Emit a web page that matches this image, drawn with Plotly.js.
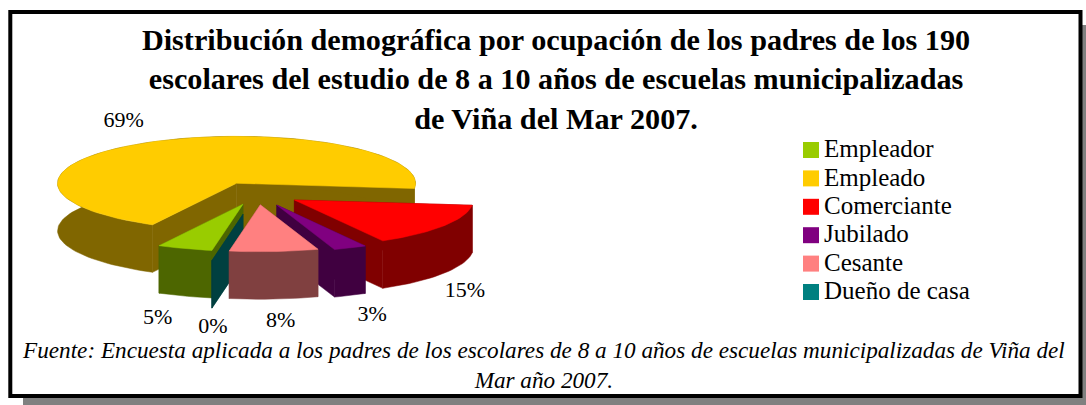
<!DOCTYPE html>
<html><head><meta charset="utf-8">
<script src="https://cdn.plot.ly/plotly-3.0.1.min.js"></script>
<style>html,body{margin:0;padding:0;background:#fff}#c{width:1086px;height:405px}</style>
</head><body><div id="c"></div>
<script>
// --- data ---
const categories = ["Empleador","Empleado","Comerciante","Jubilado","Cesante","Dueño de casa"];
const percents = [5,69,15,3,8,0];
const titleText = "Distribución demográfica por ocupación de los padres de los 190<br>escolares del estudio de 8 a 10 años de escuelas municipalizadas<br>de Viña del Mar 2007.";
const sourceText = "Fuente: Encuesta aplicada a los padres de los escolares de 8 a 10 años de escuelas municipalizadas de Viña del<br>Mar año 2007.";

// --- styling ---
const topColors = ["#99CC00","#FFCC00","#FF0000","#800080","#FF8080","#008080"];
const wallColors = ["#4D6600","#806600","#800000","#400040","#804040","#004040"];
const explode = [0.24,0.245,0.25,0.27,0.24,0.45];
const labelNudgeX = [-27,-29.5,21,22,6.7,1];
const labelNudgeY = [70,-20,66,68,70,67];
const drawOrder = [1,2,3,0,5,4];
const FONT = "Liberation Serif";
const pie = {cx:257, cy:193.5, rx:179, ry:47, depth:47.5, startDeg:260};
const legendBox = {x:811, textX:824, y:150, textDy:1, gap:28.4};

// --- geometry from values ---
const total = percents.reduce((a,b)=>a+b,0);
const rad = d=>d*Math.PI/180;
let cursor = pie.startDeg;
const slices = percents.map((v,i)=>{
  const t1 = cursor, t2 = cursor - v/total*360; cursor = t2;
  const mid = (t1+t2)/2;
  const ax = pie.cx + explode[i]*pie.rx*Math.cos(rad(mid));
  const ay = pie.cy - explode[i]*pie.ry*Math.sin(rad(mid));
  return {i,t1,t2,mid,ax,ay};
});
function arc(s,dy){
  const n = Math.max(1,Math.ceil(Math.abs(s.t1-s.t2)/2));
  const xs=[],ys=[];
  for(let k=0;k<=n;k++){
    const t=rad(s.t1+(s.t2-s.t1)*k/n);
    xs.push(s.ax+pie.rx*Math.cos(t));
    ys.push(s.ay-pie.ry*Math.sin(t)+dy);
  }
  return {xs,ys};
}
function poly(xs,ys,color){
  return {type:"scatter",mode:"lines",x:[...xs,xs[0]],y:[...ys,ys[0]],fill:"toself",fillcolor:color,
    line:{color:color,width:0.5},showlegend:false,hoverinfo:"skip"};
}
const traces=[];
drawOrder.forEach(idx=>{
  const s=slices[idx], a=arc(s,0), b=arc(s,pie.depth), d=pie.depth, w=wallColors[idx];
  const n=a.xs.length-1;
  traces.push(poly([s.ax,a.xs[0],a.xs[0],s.ax],[s.ay,a.ys[0],a.ys[0]+d,s.ay+d],w));
  traces.push(poly([s.ax,a.xs[n],a.xs[n],s.ax],[s.ay,a.ys[n],a.ys[n]+d,s.ay+d],w));
  traces.push(poly([...a.xs,...b.xs.slice().reverse()],[...a.ys,...b.ys.slice().reverse()],w));
  if(percents[idx]>0) traces.push(poly([s.ax,...a.xs],[s.ay,...a.ys],topColors[idx]));
});
// percent labels
traces.push({type:"scatter",mode:"text",
  x:slices.map((s,i)=>s.ax+pie.rx*Math.cos(rad(s.mid))+labelNudgeX[i]),
  y:slices.map((s,i)=>s.ay-pie.ry*Math.sin(rad(s.mid))+labelNudgeY[i]),
  text:percents.map(v=>v+"%"),textfont:{family:FONT,size:22,color:"#000"},
  showlegend:false,hoverinfo:"skip"});
// key
const keyY = categories.map((c,i)=>legendBox.y+i*legendBox.gap);
traces.push({type:"scatter",mode:"markers",x:categories.map(()=>legendBox.x),y:keyY,
  marker:{symbol:"square",size:16,color:topColors,line:{width:0}},showlegend:false,hoverinfo:"skip"});
traces.push({type:"scatter",mode:"text",x:categories.map(()=>legendBox.textX),y:keyY.map(v=>v+legendBox.textDy),
  text:categories,textposition:"middle right",textfont:{family:FONT,size:25,color:"#000"},
  showlegend:false,hoverinfo:"skip"});

const layout={
  width:1086,height:405,margin:{l:0,r:0,t:0,b:0},
  paper_bgcolor:"#fff",plot_bgcolor:"rgba(0,0,0,0)",showlegend:false,
  xaxis:{range:[0,1086],visible:false,fixedrange:true},
  yaxis:{range:[405,0],visible:false,fixedrange:true},
  title:{text:titleText,font:{family:FONT,size:30.2,color:"#000",weight:"bold"},x:0.512,xanchor:"center",y:0.876,yanchor:"top"},
  shapes:[
    {type:"rect",layer:"below",xref:"x",yref:"y",x0:23,y0:25,x1:1087,y1:406,fillcolor:"#808080",line:{width:0}},
    {type:"rect",layer:"below",xref:"x",yref:"y",x0:10.3,y0:12,x1:1080.5,y1:396,fillcolor:"#fff",line:{color:"#000",width:4}}
  ],
  annotations:[{xref:"x",yref:"y",x:543,y:365,text:sourceText,showarrow:false,align:"center",
    font:{family:FONT,size:23.2,color:"#000",style:"italic"}}]
};
Plotly.newPlot("c",traces,layout,{staticPlot:true,displayModeBar:false});
</script></body></html>
